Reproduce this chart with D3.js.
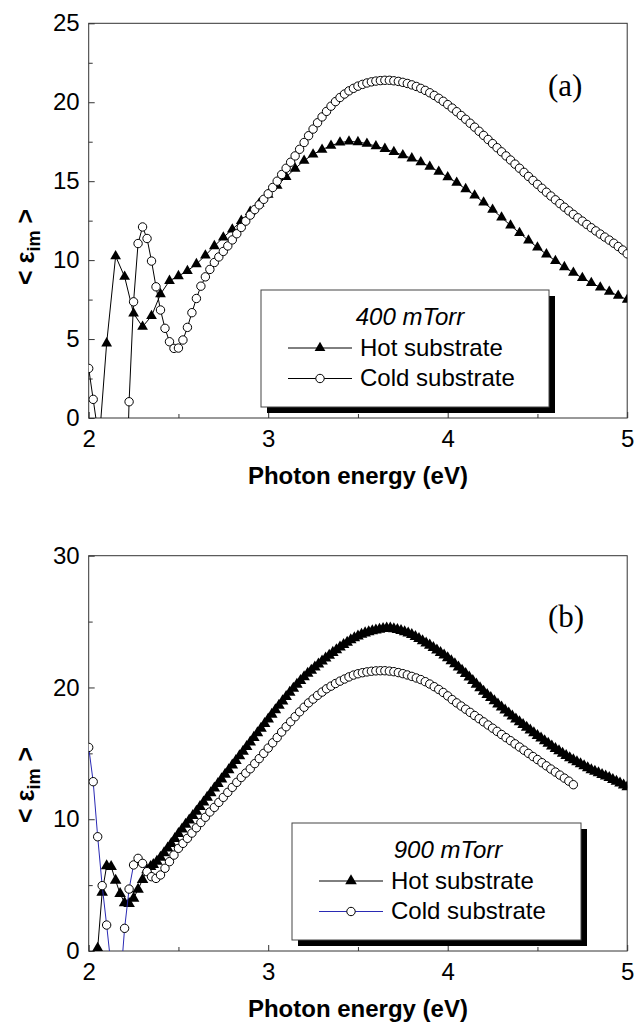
<!DOCTYPE html>
<html>
<head>
<meta charset="utf-8">
<script src="https://cdn.jsdelivr.net/npm/d3@7"></script>
<style>
body { margin: 0; background: #fff; }
text { font-family: "Liberation Sans", Arial, Helvetica, sans-serif; fill: #000; }
</style>
</head>
<body>
<svg id="chart" width="634" height="1026"></svg>
<script>
// ---- data ----
// (a) 400 mTorr, hot substrate: energies 2.05 .. 5.00 step 0.05
var hotA = [
  -2.7, 4.73, 10.25, 8.95, 6.62, 5.78, 6.46, 7.85, 8.69, 8.99,
  9.32, 9.75, 10.3, 10.89, 11.44, 11.94, 12.49, 13.06, 13.59, 14.15,
  14.72, 15.27, 15.8, 16.3, 16.7, 17.0, 17.25, 17.45, 17.52, 17.48,
  17.38, 17.22, 17.05, 16.85, 16.65, 16.45, 16.2, 15.92, 15.6, 15.25,
  14.9, 14.5, 14.1, 13.65, 13.2, 12.7, 12.2, 11.72, 11.25, 10.8,
  10.37, 9.95, 9.56, 9.2, 8.87, 8.56, 8.27, 8.0, 7.75, 7.5
];
// (a) 400 mTorr, cold substrate: energies 2.000 .. 5.000 step 0.025
var coldA = [
  3.14, 1.18, -0.8, -3, -5, -7, -8, -9, -9, 1.03,
  7.36, 11.05, 12.1, 11.37, 9.94, 8.31, 6.84, 5.68, 4.83, 4.41,
  4.43, 4.94, 5.74, 6.67, 7.57, 8.35, 8.94, 9.41, 9.85, 10.2,
  10.55, 10.9, 11.28, 11.67, 12.07, 12.47, 12.85, 13.2, 13.5, 13.85,
  14.2, 14.6, 15.0, 15.42, 15.82, 16.2, 16.6, 17.02, 17.45, 17.88,
  18.3, 18.7, 19.07, 19.42, 19.75, 20.04, 20.3, 20.52, 20.72, 20.88,
  21.02, 21.13, 21.22, 21.29, 21.34, 21.37, 21.39, 21.39, 21.36, 21.32,
  21.26, 21.19, 21.1, 21.0, 20.88, 20.75, 20.6, 20.43, 20.25, 20.06,
  19.85, 19.63, 19.4, 19.16, 18.92, 18.67, 18.42, 18.16, 17.9, 17.64,
  17.38, 17.12, 16.86, 16.6, 16.34, 16.08, 15.82, 15.56, 15.3, 15.05,
  14.8, 14.55, 14.3, 14.06, 13.82, 13.58, 13.35, 13.12, 12.9, 12.68,
  12.47, 12.26, 12.05, 11.85, 11.65, 11.46, 11.27, 11.07, 10.86, 10.64,
  10.4
];
// (b) 900 mTorr, hot substrate: sparse start, then energies 2.36 .. 5.00 step 0.02
var hotBStart = [
  [2.05, 0.2], [2.075, 4.45], [2.1, 6.45], [2.125, 6.4], [2.15, 5.35],
  [2.175, 4.35], [2.2, 3.65], [2.225, 3.6], [2.25, 4.0], [2.275, 4.68],
  [2.3, 5.42], [2.325, 6.15], [2.345, 6.4]
];
var hotB = [
  6.55, 6.8, 7.1, 7.45, 7.8, 8.15, 8.52, 8.9, 9.25, 9.6,
  9.93, 10.27, 10.6, 10.95, 11.3, 11.65, 12.0, 12.35, 12.7, 13.05,
  13.4, 13.75, 14.1, 14.45, 14.8, 15.15, 15.5, 15.85, 16.2, 16.55,
  16.9, 17.25, 17.6, 17.95, 18.3, 18.63, 18.97, 19.3, 19.62, 19.93,
  20.23, 20.52, 20.8, 21.06, 21.3, 21.54, 21.77, 22.0, 22.22, 22.44,
  22.65, 22.85, 23.05, 23.24, 23.42, 23.6, 23.76, 23.9, 24.02, 24.13,
  24.22, 24.29, 24.35, 24.41, 24.46, 24.5, 24.49, 24.45, 24.39, 24.31,
  24.22, 24.12, 24.0, 23.85, 23.7, 23.54, 23.37, 23.2, 23.02, 22.83,
  22.64, 22.45, 22.25, 22.02, 21.78, 21.54, 21.3, 21.05, 20.78, 20.51,
  20.24, 19.97, 19.7, 19.46, 19.22, 18.98, 18.74, 18.5, 18.27, 18.05,
  17.82, 17.6, 17.38, 17.17, 16.96, 16.76, 16.55, 16.35, 16.15, 15.95,
  15.75, 15.55, 15.35, 15.18, 15.0, 14.83, 14.66, 14.5, 14.35, 14.2,
  14.05, 13.9, 13.75, 13.63, 13.51, 13.39, 13.27, 13.15, 13.01, 12.87,
  12.73, 12.59, 12.45
];
// (b) 900 mTorr, cold substrate: energies 2.000 .. 4.700 step 0.025
var coldB = [
  15.45, 12.85, 8.67, 4.96, 1.97, -1.2, -3.5, -2.7, 1.72, 4.7,
  6.53, 7.03, 6.65, 6.02, 5.64, 5.51, 5.77, 6.28, 6.78, 7.28,
  7.79, 8.17, 8.55, 8.95, 9.35, 9.75, 10.15, 10.55, 10.9, 11.28,
  11.66, 12.04, 12.42, 12.8, 13.17, 13.5, 13.83, 14.22, 14.6, 15.0,
  15.4, 15.8, 16.2, 16.62, 17.02, 17.4, 17.78, 18.15, 18.5, 18.83,
  19.12, 19.4, 19.65, 19.9, 20.1, 20.3, 20.48, 20.64, 20.8, 20.94,
  21.04, 21.12, 21.18, 21.23, 21.26, 21.27, 21.27, 21.24, 21.2, 21.13,
  21.05, 20.95, 20.84, 20.72, 20.6, 20.44, 20.26, 20.06, 19.85, 19.62,
  19.36, 19.08, 18.83, 18.59, 18.35, 18.11, 17.87, 17.63, 17.39, 17.15,
  16.91, 16.67, 16.43, 16.19, 15.96, 15.72, 15.48, 15.24, 15.0, 14.76,
  14.53, 14.29, 14.05, 13.81, 13.58, 13.35, 13.12, 12.89, 12.62
];

var xTicks = [2, 3, 4, 5];
var xMinor = [2.5, 3.5, 4.5];
var yTicksA = [0, 5, 10, 15, 20, 25];
var yMinorA = [2.5, 7.5, 12.5, 17.5, 22.5];
var yTicksB = [0, 10, 20, 30];
var yMinorB = [5, 15, 25];
var seriesNames = ["Hot substrate", "Cold substrate"];
var panelTitles = ["400 mTorr", "900 mTorr"];
var panelTags = ["(a)", "(b)"];

function grid(values, start, step) {
  return values.map(function(v, i) { return [start + step * i, v]; });
}

var svg = d3.select("#chart");
var left = 88.7, right = 627.2;

var panels = [
  { top: 23.3, bottom: 418, yMax: 25, yTicks: yTicksA, yMinor: yMinorA,
    hot: grid(hotA, 2.05, 0.05), cold: grid(coldA, 2.0, 0.025),
    coldLine: "#000", title: panelTitles[0], tag: panelTags[0],
    legend: { x: 261, y: 290, w: 288, h: 117, titleX: 149 },
    tagY: 96, labelY: 247, triSize: 50 },
  { top: 555.7, bottom: 951, yMax: 30, yTicks: yTicksB, yMinor: yMinorB,
    hot: hotBStart.concat(grid(hotB, 2.36, 0.02)), cold: grid(coldB, 2.0, 0.025),
    coldLine: "#2a2ab4", title: panelTitles[1], tag: panelTags[1],
    legend: { x: 292, y: 823, w: 289, h: 117, titleX: 156 },
    tagY: 627, labelY: 785, triSize: 58 }
];

panels.forEach(function(p, k) {
  var x = d3.scaleLinear().domain([2, 5]).range([left, right]);
  var y = d3.scaleLinear().domain([0, p.yMax]).range([p.bottom, p.top]);
  var tri = d3.symbol().type(d3.symbolTriangle).size(p.triSize);
  var g = svg.append("g");

  var clipId = "clip" + k;
  g.append("clipPath").attr("id", clipId)
    .append("rect").attr("x", left).attr("y", p.top)
    .attr("width", right - left).attr("height", p.bottom - p.top);

  // frame
  g.append("rect").attr("x", left).attr("y", p.top)
    .attr("width", right - left).attr("height", p.bottom - p.top)
    .attr("fill", "none").attr("stroke", "#333").attr("stroke-width", 1);

  // ticks (inward)
  var xAxis = d3.axisBottom(x).tickValues(xTicks).tickSize(-6).tickPadding(12)
    .tickFormat(d3.format("d"));
  var gx = g.append("g").attr("transform", "translate(0," + p.bottom + ")").call(xAxis);
  gx.select(".domain").remove();
  gx.selectAll("text").attr("font-size", 24).attr("dy", "0.71em");
  g.append("g").attr("transform", "translate(0," + p.bottom + ")")
    .call(d3.axisBottom(x).tickValues(xMinor).tickSize(-4).tickFormat(""))
    .select(".domain").remove();

  var gy = g.append("g").attr("transform", "translate(" + left + ",0)")
    .call(d3.axisLeft(y).tickValues(p.yTicks).tickSize(-6).tickPadding(9)
      .tickFormat(d3.format("d")));
  gy.select(".domain").remove();
  gy.selectAll("text").attr("font-size", 24);
  g.append("g").attr("transform", "translate(" + left + ",0)")
    .call(d3.axisLeft(y).tickValues(p.yMinor).tickSize(-4).tickFormat(""))
    .select(".domain").remove();
  g.selectAll(".tick line").attr("stroke", "#333");

  // data
  var line = d3.line().x(function(d) { return x(d[0]); }).y(function(d) { return y(d[1]); });
  var plot = g.append("g").attr("clip-path", "url(#" + clipId + ")");

  plot.append("path").datum(p.hot).attr("d", line)
    .attr("fill", "none").attr("stroke", "#000").attr("stroke-width", 1);
  plot.selectAll(".hot").data(p.hot).enter().append("path")
    .attr("class", "hot").attr("d", tri)
    .attr("transform", function(d) { return "translate(" + x(d[0]) + "," + y(d[1]) + ")"; })
    .attr("fill", "#000");

  plot.append("path").datum(p.cold).attr("d", line)
    .attr("fill", "none").attr("stroke", p.coldLine).attr("stroke-width", 1);
  plot.selectAll(".cold").data(p.cold).enter().append("circle")
    .attr("class", "cold")
    .attr("cx", function(d) { return x(d[0]); })
    .attr("cy", function(d) { return y(d[1]); })
    .attr("r", 4.2).attr("fill", "#fff").attr("stroke", "#000").attr("stroke-width", 1);

  // legend with drop shadow
  var L = p.legend;
  var lg = g.append("g").attr("transform", "translate(" + L.x + "," + L.y + ")");
  lg.append("rect").attr("x", 6).attr("y", 6).attr("width", L.w).attr("height", L.h).attr("fill", "#000");
  lg.append("rect").attr("width", L.w).attr("height", L.h)
    .attr("fill", "#fff").attr("stroke", "#444").attr("stroke-width", 1);
  lg.append("text").attr("x", L.titleX).attr("y", 35).attr("text-anchor", "middle")
    .attr("font-size", 24).attr("font-style", "italic").text(p.title);
  [0, 1].forEach(function(i) {
    var ly = i === 0 ? 58 : 88.5;
    lg.append("line").attr("x1", 27).attr("x2", 91).attr("y1", ly).attr("y2", ly)
      .attr("stroke", i === 0 ? "#000" : p.coldLine).attr("stroke-width", 1);
    if (i === 0) {
      lg.append("path").attr("d", tri).attr("transform", "translate(59," + ly + ")").attr("fill", "#000");
    } else {
      lg.append("circle").attr("cx", 59).attr("cy", ly).attr("r", 4.2)
        .attr("fill", "#fff").attr("stroke", "#000");
    }
    lg.append("text").attr("x", 99).attr("y", i === 0 ? 66 : 96)
      .attr("font-size", 24).text(seriesNames[i]);
  });

  // panel tag
  g.append("text").attr("x", 548).attr("y", p.tagY)
    .style("font-family", "'Liberation Serif', 'Times New Roman', serif")
    .attr("font-size", 31).text(p.tag);

  // axis titles
  g.append("text").attr("x", (left + right) / 2).attr("y", p.bottom + 66)
    .attr("text-anchor", "middle").attr("font-size", 24).attr("font-weight", "bold")
    .text("Photon energy (eV)");

  var yl = g.append("text")
    .attr("transform", "translate(34," + p.labelY + ") rotate(-90)")
    .attr("text-anchor", "middle").attr("font-size", 25).attr("font-weight", "bold");
  yl.append("tspan").text("< ε");
  yl.append("tspan").attr("font-size", 18).attr("dy", 6).text("im");
  yl.append("tspan").attr("dy", -6).text(" >");
});
</script>
</body>
</html>
